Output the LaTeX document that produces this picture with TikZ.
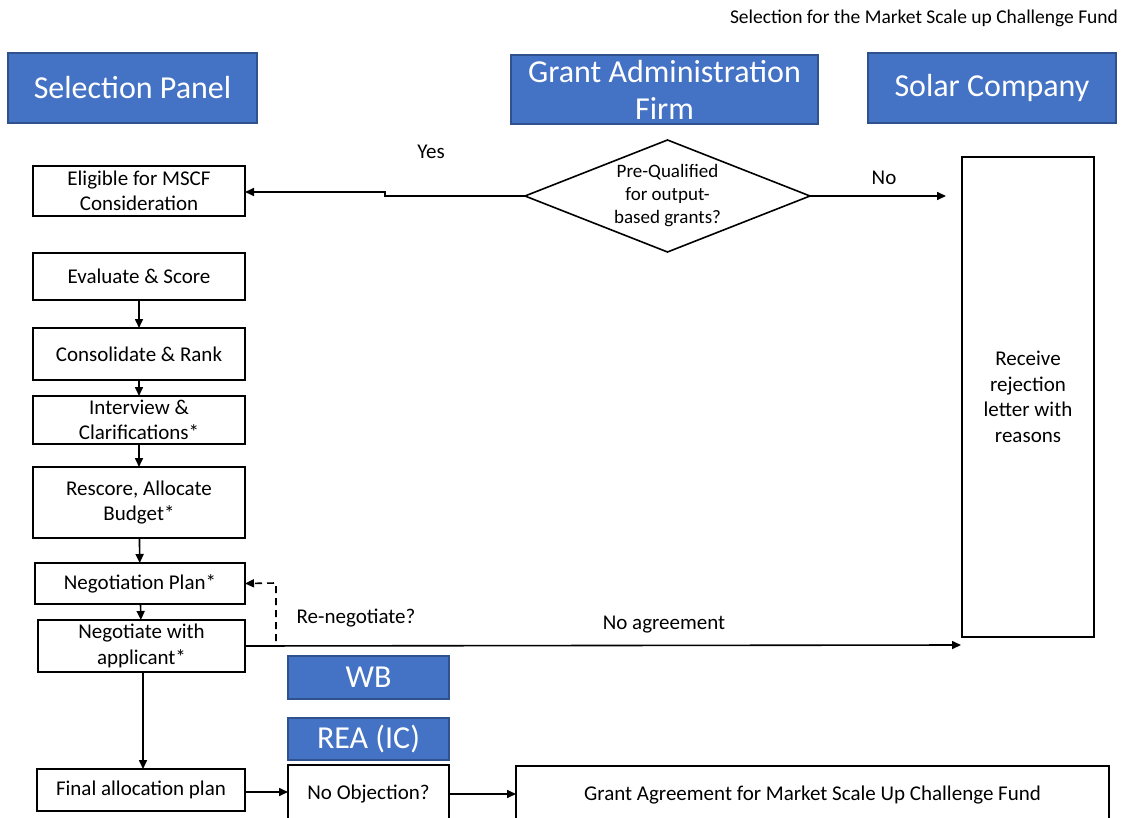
\documentclass[tikz,border=0pt]{standalone}
\usepackage{fontspec}
\setmainfont{Carlito}
\usetikzlibrary{arrows.meta,shapes.geometric}
\definecolor{headfill}{HTML}{4472C4}
\definecolor{headline}{HTML}{2F528F}
\begin{document}
\begin{tikzpicture}[x=1pt,y=-1pt,
  every node/.style={inner sep=0pt,outer sep=0pt},
  header/.style={draw=headline,line width=1.2pt,fill=headfill,text=white,
    font=\fontsize{32}{37}\selectfont,align=center},
  stepbox/.style={draw=black,line width=1.6pt,fill=white,
    font=\fontsize{21}{25.5}\selectfont,align=center},
  lbl/.style={font=\fontsize{21}{25}\selectfont},
  arr/.style={line width=1.6pt,-{Triangle[length=9pt,width=8pt]}},
]
\clip (0,0) rectangle (1121,818);
\fill[white] (0,0) rectangle (1121,818);

% title
\node[anchor=east,font=\fontsize{19.5}{23}\selectfont] (title) at (1118,18) {Selection for the Market Scale up Challenge Fund};

% swimlane headers
\node[header,minimum width=249pt,minimum height=70pt] (hsel) at (132.5,88) {Selection Panel};
\node[header,minimum width=307pt,minimum height=69pt] (hgaf) at (664.5,89.5) {Grant Administration\\Firm};
\node[header,minimum width=248pt,minimum height=70pt] (hsol) at (992,88) {Solar Company};

% decision
\node[diamond,draw=black,line width=1.6pt,aspect=2.55,minimum width=285pt,minimum height=112pt,
  inner sep=0pt,align=center,font=\fontsize{19}{23}\selectfont] (dec) at (667.5,196)
  {Pre-Qualified\\for output-\\based grants?};

% selection panel steps
\node[stepbox,minimum width=212pt,minimum height=50pt] (elig) at (139,191) {Eligible for MSCF\\Consideration};
\node[stepbox,minimum width=212pt,minimum height=47pt] (eval) at (139,276.5) {Evaluate \& Score};
\node[stepbox,minimum width=212pt,minimum height=52pt] (cons) at (139,354) {Consolidate \& Rank};
\node[stepbox,minimum width=212pt,minimum height=48pt] (intv) at (139,420) {Interview \&\\Clarifications*};
\node[stepbox,minimum width=212pt,minimum height=71pt] (resc) at (139,502.5) {Rescore, Allocate\\Budget*};
\node[stepbox,minimum width=210pt,minimum height=41pt] (nplan) at (140,583.5) {Negotiation Plan*};
\node[stepbox,minimum width=207pt,minimum height=52pt] (nego) at (141.5,646) {Negotiate with\\applicant*};
\node[stepbox,minimum width=208pt,minimum height=42pt] (final) at (141,790) {Final allocation plan};

% solar company
\node[stepbox,minimum width=132pt,minimum height=480pt] (rej) at (1028,397) {Receive\\rejection\\letter with\\reasons};

% approvals
\node[header,minimum width=161pt,minimum height=43pt] (wb) at (368.5,677.5) {WB};
\node[header,minimum width=161pt,minimum height=42pt] (rea) at (368.5,739) {REA (IC)};
\node[stepbox,minimum width=161pt,minimum height=58pt] (noobj) at (368.5,794) {No Objection?};
\node[stepbox,minimum width=593pt,minimum height=58pt] (grant) at (812.5,795) {Grant Agreement for Market Scale Up Challenge Fund};

% decision outcomes
\draw[arr] (dec.west) -- (385,196) -- (385,192) -- (elig.east |- 0,192);
\node[lbl] (yes) at (431,152) {Yes};
\draw[arr] (dec.east) -- (946,196);
\node[lbl] (no) at (884,178) {No};

% sequence
\draw[arr] (eval) -- (cons);
\draw[arr] (cons) -- (intv);
\draw[arr] (intv) -- (resc);
\draw[arr] (resc) -- (nplan);
\draw[arr] (nplan) -- (nego);
\draw[arr] (nego.south -| 143,0) -- (final.north -| 143,0);
\draw[arr] (final.east |- 0,792) -- (noobj.west |- 0,792);
\draw[arr] (noobj.east |- 0,794) -- (grant.west |- 0,794);

% renegotiation loop
\draw[line width=1.6pt,dashed,dash pattern=on 7pt off 5pt,-{Triangle[length=9pt,width=8pt]}]
  (nego.east) -- (276,646) -- (276,583) -- (nplan.east);
\node[lbl] (reneg) at (356,618) {Re-negotiate?};

% no agreement
\draw[arr] (nego.east) -- (961,645);
\node[lbl] (noagr) at (664,625) {No agreement};
\end{tikzpicture}
\end{document}
